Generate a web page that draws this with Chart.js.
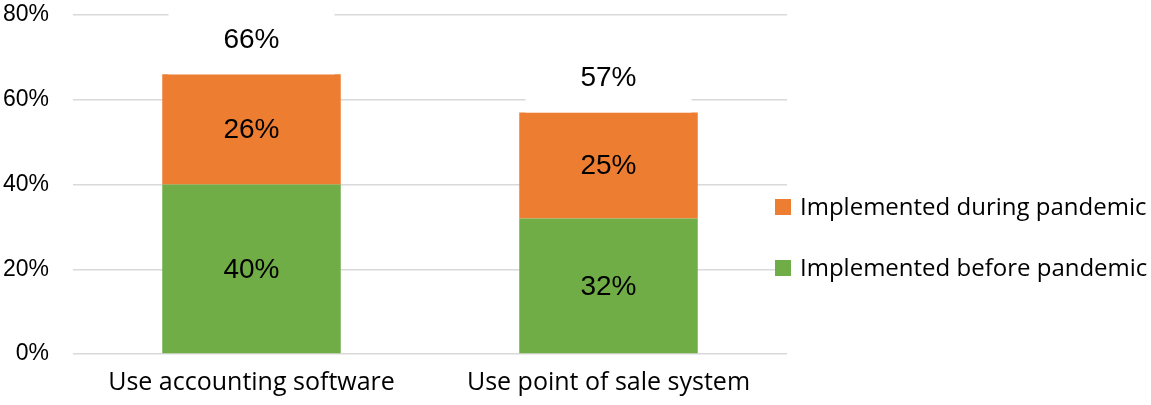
<!DOCTYPE html>
<html>
<head>
<meta charset="utf-8">
<script src="https://cdn.jsdelivr.net/npm/chart.js@4/dist/chart.umd.min.js"></script>
<style>
  html, body { margin: 0; padding: 0; background: #fff; }
  #wrap { width: 1151px; height: 405px; }
</style>
</head>
<body>
<div id="wrap"><canvas id="chart" width="1151" height="405"></canvas></div>
<script>
// data
const categories = ['Use accounting software', 'Use point of sale system'];
const beforePandemic = [40, 32];
const duringPandemic = [26, 25];
const yTicks = [0, 20, 40, 60, 80];

const GREEN = '#70AD47';
const ORANGE = '#ED7D31';

// labels inside the segments + totals on top with white box
const valueLabels = {
  id: 'valueLabels',
  afterDatasetsDraw(chart) {
    const ctx = chart.ctx;
    ctx.save();
    ctx.font = '28px "Liberation Sans", Arial, sans-serif';
    ctx.textAlign = 'center';
    ctx.textBaseline = 'middle';
    ctx.fillStyle = '#000';
    chart.data.datasets.forEach((ds, i) => {
      chart.getDatasetMeta(i).data.forEach((bar, j) => {
        ctx.fillText(ds.data[j] + '%', bar.x, (bar.y + bar.base) / 2 + 1);
      });
    });
    const last = chart.getDatasetMeta(chart.data.datasets.length - 1).data;
    last.forEach((bar, j) => {
      let total = 0;
      chart.data.datasets.forEach(ds => total += ds.data[j]);
      const cy = bar.y - 35;
      ctx.fillStyle = '#fff';
      ctx.fillRect(bar.x - 83, cy - 35, 166, 70);
      ctx.fillStyle = '#000';
      ctx.fillText(total + '%', bar.x, cy + 1);
    });
    ctx.restore();
  }
};

// legend on the right, top item = last dataset
const sideLegend = {
  id: 'sideLegend',
  afterDraw(chart) {
    const ctx = chart.ctx;
    ctx.save();
    ctx.font = '24px "Open Sans", sans-serif';
    ctx.textBaseline = 'middle';
    const rows = [207, 268];
    const sets = chart.data.datasets.slice().reverse();
    sets.forEach((ds, k) => {
      ctx.fillStyle = ds.backgroundColor;
      ctx.fillRect(775, rows[k] - 8, 16, 16);
      ctx.fillStyle = '#000';
      ctx.fillText(ds.label, 800, rows[k] + 1);
    });
    ctx.restore();
  }
};

const chart = new Chart(document.getElementById('chart'), {
  type: 'bar',
  data: {
    labels: categories,
    datasets: [
      { label: 'Implemented before pandemic', data: beforePandemic, backgroundColor: GREEN },
      { label: 'Implemented during pandemic', data: duringPandemic, backgroundColor: ORANGE }
    ]
  },
  options: {
    responsive: false,
    animation: false,
    devicePixelRatio: 1,
    layout: { padding: { top: 15, right: 364, left: 0, bottom: 0 } },
    categoryPercentage: 1,
    barPercentage: 0.5,
    plugins: {
      legend: { display: false },
      tooltip: { enabled: false }
    },
    scales: {
      x: {
        stacked: true,
        grid: { display: false },
        border: { display: false },
        ticks: {
          color: '#000',
          font: { family: '"Open Sans", sans-serif', size: 25 },
          padding: 6
        },
        afterFit(scale) { scale.height = 51; scale.paddingLeft = 0; scale.paddingRight = 0; }
      },
      y: {
        stacked: true,
        min: 0,
        max: 80,
        afterBuildTicks(scale) { scale.ticks = yTicks.map(v => ({ value: v })); },
        grid: { color: '#d9d9d9', lineWidth: 1.5, drawTicks: false },
        border: { display: false },
        ticks: {
          color: '#000',
          font: { family: '"Liberation Sans", Arial, sans-serif', size: 23 },
          padding: 24,
          callback: v => v + '%'
        },
        afterFit(scale) { scale.width = 73; scale.paddingTop = 0; scale.paddingBottom = 0; }
      }
    }
  },
  plugins: [valueLabels, sideLegend]
});
</script>
</body>
</html>
